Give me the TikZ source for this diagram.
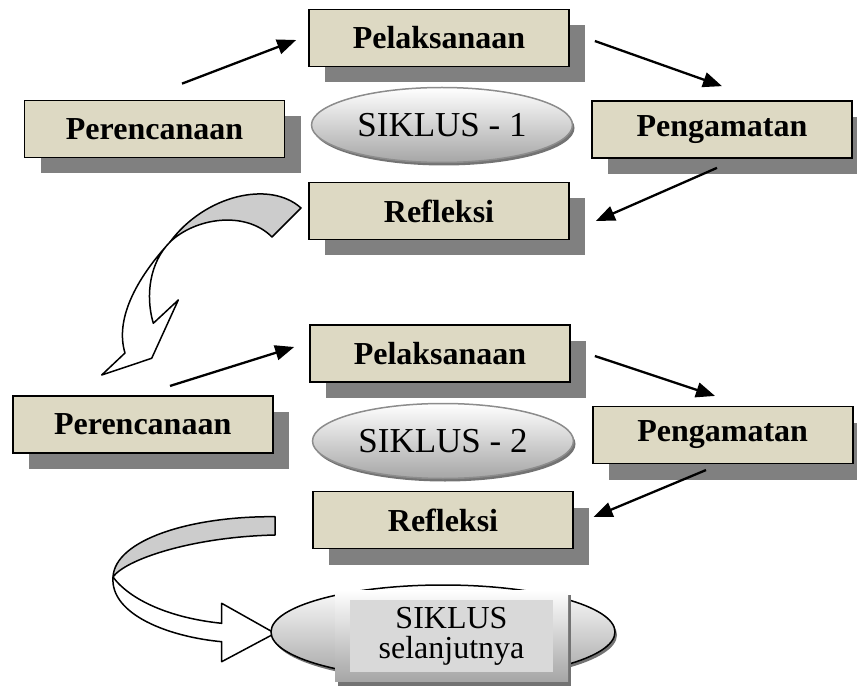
\documentclass[tikz,border=0pt]{standalone}
\usepackage{fontspec}
\setmainfont{Liberation Serif}
\usetikzlibrary{shapes.geometric,shadows,arrows.meta,calc}
\definecolor{boxfill}{HTML}{DDD9C3}
\definecolor{shadowgray}{HTML}{808080}
\definecolor{ellgray}{HTML}{8C8C8C}
\definecolor{ribbongray}{HTML}{CCCCCC}
\definecolor{innergray}{HTML}{D9D9D9}
\begin{document}
\begin{tikzpicture}[x=1pt,y=-1pt,
  box/.style={draw=black, line width=1.7pt, fill=boxfill, minimum width=260pt, minimum height=57pt, inner sep=0pt,
    font=\bfseries\fontsize{32}{36}\selectfont,
    drop shadow={shadow xshift=16pt, shadow yshift=-16pt, fill=shadowgray, opacity=1}},
  ell/.style={ellipse, draw=ellgray, line width=1.5pt, top color=white, bottom color=black!35,
    minimum width=261pt, minimum height=75pt, inner sep=0pt, font=\fontsize{35}{38}\selectfont,
    drop shadow={shadow xshift=2pt, shadow yshift=-3pt, fill=black!55, opacity=1}},
  conn/.style={line width=2.3pt, -{Triangle[length=19pt,width=15pt]}},
  ribbon/.style={draw=black, line width=1.5pt, line join=round}
]
\useasboundingbox (0,0) rectangle (857,687);
\clip (0,0) rectangle (857,687);

% ---- curved arrow 1 ----
\draw[ribbon, fill=ribbongray] (301,208) .. controls (270,180) and (205,195) .. (170,242)
   .. controls (195,218) and (245,210) .. (272,237) -- cycle;
\draw[ribbon, fill=white] (170,242) .. controls (135,280) and (115,320) .. (125,353)
   -- (101.7,375) -- (151.7,358.3) -- (178.3,300) -- (153.3,323.3)
   .. controls (145,295) and (150,262) .. (170,242) -- cycle;

% ---- curved arrow 2 ----
\draw[ribbon, fill=ribbongray] (275,516.7) .. controls (190,516) and (115,540) .. (113,577)
   .. controls (125,560) and (190,537) .. (275,535) -- cycle;
\draw[ribbon, fill=white] (113,577) .. controls (110,615) and (170,637) .. (221.7,641.7)
   -- (221.7,661.7) -- (275,633.3) -- (221.7,603.3) -- (221.7,623.3)
   .. controls (170,618) and (130,600) .. (113,577) -- cycle;

% ---- cycle 1 ----
\node[box] (P1) at (439,38) {Pelaksanaan};
\node[box] (R1) at (154.5,129) {Perencanaan};
\node[box] (G1) at (722,129.5) {Pengamatan};
\node[box] (F1) at (439,211) {Refleksi};
\node[ell] (S1) at (442,125) {SIKLUS - 1};

% ---- cycle 2 ----
\node[box] (P2) at (440,353.5) {Pelaksanaan};
\node[box] (R2) at (142.7,424.3) {Perencanaan};
\node[box] (G2) at (722.7,435) {Pengamatan};
\node[box] (F2) at (443,520) {Refleksi};
\node[ell] (S2) at (443,441) {SIKLUS - 2};

% ---- next cycle ----
\node[ell, draw=black, minimum width=344pt, minimum height=94pt] (S3) at (443,632) {};
\node[minimum width=233pt, minimum height=91pt, inner sep=0pt, top color=white, bottom color=black!35,
   drop shadow={shadow xshift=3pt, shadow yshift=-5pt, fill=black!55, opacity=1}] (SB) at (451.5,635.5) {};
\node[fill=innergray, minimum width=203pt, minimum height=72pt, inner sep=0pt, align=center,
   font=\fontsize{32}{30}\selectfont] (ST) at (451.5,636) {SIKLUS\\selanjutnya};

% ---- connectors ----
\draw[conn] ($(R1.north)+(27.5,-16)$) -- ($(P1.west)+(-12,2)$);
\draw[conn] ($(P1.east)+(25,3)$) -- ($(G1.north)+(0,-14)$);
\draw[conn] ($(G1.south)+(-5,9)$) -- ($(F1.east)+(26,10)$);
\draw[conn] ($(R2.north)+(27.3,-9)$) -- ($(P2.west)+(-15,-6.5)$);
\draw[conn] ($(P2.east)+(24,2.5)$) -- ($(G2.north)+(-7.7,-9.7)$);
\draw[conn] ($(G2.south)+(-16.7,5.7)$) -- ($(F2.east)+(19.7,-3)$);
\end{tikzpicture}
\end{document}
